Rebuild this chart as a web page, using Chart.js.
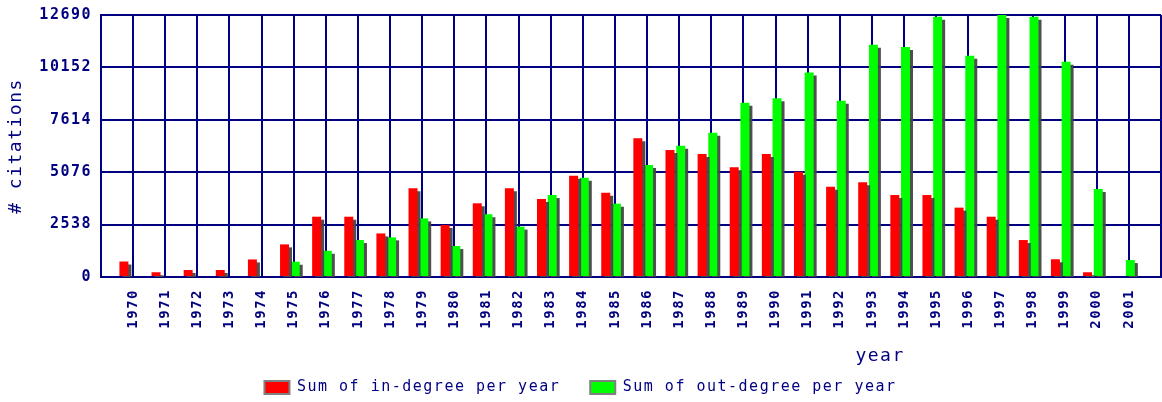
<!DOCTYPE html>
<html>
<head>
<meta charset="utf-8">
<script src="https://cdn.jsdelivr.net/npm/chart.js@4.4.1/dist/chart.umd.min.js"></script>
<style>
html,body{margin:0;padding:0;background:#ffffff;}
canvas{display:block;}
</style>
</head>
<body>
<canvas id="c" width="1162" height="402"></canvas>
<script>
// ---- data ----
const years = [1970,1971,1972,1973,1974,1975,1976,1977,1978,1979,1980,1981,1982,1983,1984,1985,
               1986,1987,1988,1989,1990,1991,1992,1993,1994,1995,1996,1997,1998,1999,2000,2001];
const inDegree  = [750,230,340,340,850,1580,2920,2920,2110,4300,2520,3570,4300,3780,4910,4080,
                   6720,6150,5960,5310,5960,5100,4370,4590,3970,3970,3360,2920,1790,860,230,0];
const outDegree = [0,0,0,0,0,740,1270,1790,1920,2840,1500,3040,2440,3970,4810,3550,
                   5430,6360,6990,8440,8660,9900,8540,11250,11140,12610,10720,12690,12610,10430,4260,820];
const yTickValues = [0,2538,5076,7614,10152,12690];
const seriesNames = ['Sum of in-degree per year','Sum of out-degree per year'];
const seriesColors = ['#ff0000','#00ff00'];
const xAxisTitle = 'year';
const yAxisTitle = '# citations';

// ---- styling ----
const NAVY = '#000080';
const FONT = '"DejaVu Sans Mono", "Liberation Mono", monospace';
const SPACING = '1.5px';
const X_AXIS_H = 73;

const categoryLabels = [''].concat(years.map(String), ['']);

const spacingPlugin = {
  id: 'letterSpacing',
  beforeUpdate(chart){ chart.ctx.letterSpacing = SPACING; },
  beforeLayout(chart){ chart.ctx.letterSpacing = SPACING; },
  beforeDraw(chart){ chart.ctx.letterSpacing = SPACING; }
};

const shadowPlugin = {
  id: 'barShadow',
  beforeDatasetsDraw(chart){
    const ctx = chart.ctx;
    ctx.save();
    ctx.shadowColor = 'rgba(70,70,70,0.95)';
    ctx.shadowOffsetX = 3;
    ctx.shadowOffsetY = 3;
    ctx.shadowBlur = 0;
  },
  afterDatasetsDraw(chart){ chart.ctx.restore(); }
};

const xTitlePlugin = {
  id: 'xTitle',
  afterDraw(chart){
    const a = chart.chartArea, ctx = chart.ctx;
    ctx.save();
    ctx.font = '18px ' + FONT;
    ctx.fillStyle = NAVY;
    ctx.textAlign = 'center';
    ctx.textBaseline = 'middle';
    ctx.fillText(xAxisTitle, a.left + 0.735 * (a.right - a.left), a.bottom + 79);
    ctx.restore();
  }
};

const defaultGen = Chart.defaults.plugins.legend.labels.generateLabels;

new Chart(document.getElementById('c'), {
  type: 'bar',
  data: {
    labels: categoryLabels,
    datasets: [
      { label: seriesNames[0], data: years.map((y,i)=>({x:y, y:inDegree[i]})),
        backgroundColor: seriesColors[0], borderWidth: 0, xAxisID: 'xb',
        categoryPercentage: 0.666, barPercentage: 0.84 },
      { label: seriesNames[1], data: years.map((y,i)=>({x:y, y:outDegree[i]})),
        backgroundColor: seriesColors[1], borderWidth: 0, xAxisID: 'xb',
        categoryPercentage: 0.666, barPercentage: 0.84 }
    ]
  },
  options: {
    responsive: false,
    animation: false,
    devicePixelRatio: 1,
    layout: { padding: { top: 15, right: 1, left: 0, bottom: -3 } },
    plugins: {
      tooltip: { enabled: false },
      legend: {
        position: 'bottom',
        labels: {
          boxWidth: 25, boxHeight: 13, padding: 30, color: NAVY,
          font: { family: FONT, size: 15 },
          generateLabels: (chart) => defaultGen(chart).map(l => Object.assign(l, {strokeStyle:'#808080', lineWidth:2}))
        }
      }
    },
    scales: {
      x: {
        type: 'category', position: 'bottom', offset: false,
        grid: { color: NAVY, lineWidth: 2, drawTicks: false, offset: false },
        border: { color: NAVY, width: 2 },
        ticks: { autoSkip: false, minRotation: 90, maxRotation: 90, padding: 12, color: NAVY,
                 font: { family: FONT, size: 14, weight: 'bold' } },
        afterFit(s){ s.height = X_AXIS_H; s.paddingLeft = 0; s.paddingRight = 0; }
      },
      xb: {
        type: 'linear', display: false, offset: false,
        min: years[0] - 1 + 0.12, max: years[years.length-1] + 1 + 0.12
      },
      y: {
        type: 'linear', position: 'left', min: 0, max: yTickValues[yTickValues.length-1],
        grid: { color: NAVY, lineWidth: 2, drawTicks: false },
        border: { color: NAVY, width: 2 },
        ticks: { color: NAVY, padding: 9, font: { family: FONT, size: 15, weight: 'bold' },
                 callback: v => String(v) },
        afterBuildTicks(s){ s.ticks = yTickValues.map(v => ({value: v})); },
        title: { display: true, text: yAxisTitle, color: NAVY, padding: {top: 6, bottom: 4},
                 font: { family: FONT, size: 18 } },
        afterFit(s){ s.width = 101; s.paddingTop = 0; s.paddingBottom = 0; }
      }
    }
  },
  plugins: [spacingPlugin, shadowPlugin, xTitlePlugin]
});
</script>
</body>
</html>
